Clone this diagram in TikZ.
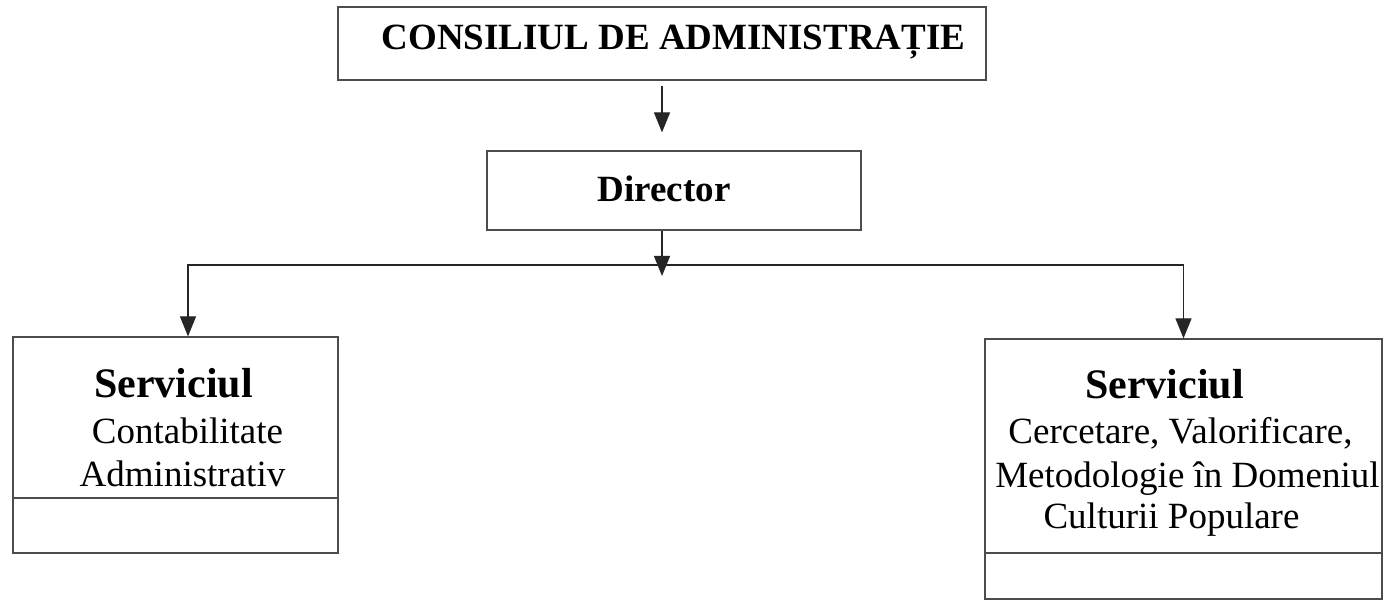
\documentclass[tikz,border=0pt]{standalone}
\usepackage{fontspec}
\setmainfont{Liberation Serif}
\usetikzlibrary{arrows.meta}
\definecolor{scangray}{gray}{0.3}

\begin{document}
\begin{tikzpicture}[x=1pt, y=-1pt,
        box/.style = {draw=scangray, line width=1.2pt, inner sep=0pt},
        arr/.style = {draw=black!85, line width=1.2pt, -{Triangle[length=20pt,width=16pt]}},
        txt/.style = {anchor=base, inner sep=0pt, font=\fontsize{37}{44}\selectfont},
        head/.style = {anchor=base, inner sep=0pt, font=\fontsize{42}{48}\selectfont\bfseries}]
        \useasboundingbox (0, 0) rectangle (1384, 601);
        \node[box, minimum width=648pt, minimum height=73pt] (consiliu) at (662, 43.5) {};
        \node[box, minimum width=374pt, minimum height=79pt] (director) at (674, 190.5) {};
        \node[box, minimum width=325pt, minimum height=216pt] (svcA) at (175.5, 445) {};
        \node[box, minimum width=397pt, minimum height=260pt] (svcB) at (1183.5, 469) {};
        \draw[box] (svcA.west |- 0, 498) -- (svcA.east |- 0, 498);
        \draw[box] (svcB.west |- 0, 553) -- (svcB.east |- 0, 553);
        \node[txt] (t1) at (673.5, 50) {\bfseries CONSILIUL DE ADMINISTRAȚIE};
        \node[txt] (t2) at (664, 202) {\bfseries Director};
        \node[head] (a1) at (173.5, 398) {Serviciul};
        \node[txt] (a2) at (187.5, 443) {Contabilitate};
        \node[txt] (a3) at (182.5, 486) {Administrativ};
        \node[head] (b1) at (1164.5, 399) {Serviciul};
        \node[txt] (b2) at (1180.5, 443) {Cercetare, Valorificare,};
        \node[txt] (b3) at (1187.5, 487) {Metodologie în Domeniul};
        \node[txt] (b4) at (1171.5, 528) {Culturii Populare};
        \coordinate (hub) at (662, 265);
        \draw[arr] ([yshift=-5pt]consiliu.south) -- ([yshift=18pt]consiliu.south |- director.north);
        \draw[arr] (hub |- director.south) -- ([yshift=-11pt]hub);
        \draw[arr] (hub) -| ([xshift=12.5pt]svcA.north);
        \draw[arr] (hub) -| (svcB.north);
\end{tikzpicture}
\end{document}
